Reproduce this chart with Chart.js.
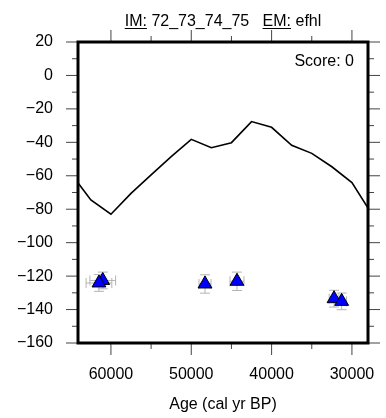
<!DOCTYPE html>
<html><head><meta charset="utf-8">
<script src="https://cdn.jsdelivr.net/npm/chart.js@4/dist/chart.umd.min.js"></script>
<style>html,body{margin:0;padding:0;background:#fff}#wrap{width:386px;height:418px}</style>
</head><body><div id="wrap"><canvas id="c" width="386" height="418"></canvas></div>
<script>
// ---- data ----
const lineAges = [65000, 62500, 60000, 57500, 55000, 52500, 50000, 47500, 45000, 42500, 40000, 37500, 35000, 32500, 30000, 27500];
const lineVals = [-58.5, -74.5, -83, -70.5, -59.5, -48.6, -38.2, -43.2, -40.2, -27.6, -31, -41.8, -46.6, -54.6, -64.1, -83];
const sampleAges = [61020, 61490, 48290, 44310, 32230, 31280];
const sampleVals = [-122.6, -124.1, -124.7, -123.1, -133.5, -135.1];
const sampleAgeErr = [1600, 1600, 750, 870, 600, 600];
const sampleValErr = [5, 5, 5.5, 5.5, 5, 5];
const xTicks = [60000, 50000, 40000, 30000];
const xMinorTicks = [55000, 45000, 35000];
const yTicks = [-160, -140, -120, -100, -80, -60, -40, -20, 0, 20];
const yMinorTicks = [-150, -130, -110, -90, -70, -50, -30, -10, 10];
const xRange = [28000, 64100];
const yRange = [-160, 20];
const titleIM = "72_73_74_75";
const titleEM = "efhl";
const scoreText = "Score: 0";
const xTitle = "Age (cal yr BP)";

const FONT = "'Liberation Sans', Arial, Helvetica, sans-serif";
Chart.defaults.font.family = FONT;
Chart.defaults.font.size = 16;
Chart.defaults.color = '#000';

const errorBars = {
  id: 'errorBars',
  beforeDatasetsDraw(chart) {
    const {ctx, scales: {x, y}} = chart;
    ctx.save();
    ctx.strokeStyle = '#b4b4b4';
    ctx.lineWidth = 1;
    sampleAges.forEach((a, i) => {
      const v = sampleVals[i];
      const px = x.getPixelForValue(a), py = y.getPixelForValue(v);
      const x1 = x.getPixelForValue(a - sampleAgeErr[i]), x2 = x.getPixelForValue(a + sampleAgeErr[i]);
      const y1 = y.getPixelForValue(v - sampleValErr[i]), y2 = y.getPixelForValue(v + sampleValErr[i]);
      const c = 5;
      ctx.beginPath();
      ctx.moveTo(x1, py); ctx.lineTo(x2, py);
      ctx.moveTo(x1, py - c); ctx.lineTo(x1, py + c);
      ctx.moveTo(x2, py - c); ctx.lineTo(x2, py + c);
      ctx.moveTo(px, y1); ctx.lineTo(px, y2);
      ctx.moveTo(px - c, y1); ctx.lineTo(px + c, y1);
      ctx.moveTo(px - c, y2); ctx.lineTo(px + c, y2);
      ctx.stroke();
    });
    ctx.restore();
  }
};

const frame = {
  id: 'frame',
  afterDraw(chart) {
    const {ctx, chartArea: a, scales: {x, y}} = chart;
    ctx.save();
    ctx.strokeStyle = '#444';
    ctx.lineWidth = 1;
    const M = 12, m = 6;
    ctx.beginPath();
    const xt = (vals, L) => vals.forEach(v => {
      const p = x.getPixelForValue(v);
      ctx.moveTo(p, a.top); ctx.lineTo(p, a.top - L);
      ctx.moveTo(p, a.bottom); ctx.lineTo(p, a.bottom + L);
    });
    const yt = (vals, L) => vals.forEach(v => {
      const p = y.getPixelForValue(v);
      ctx.moveTo(a.left, p); ctx.lineTo(a.left - L, p);
      ctx.moveTo(a.right, p); ctx.lineTo(a.right + L, p);
    });
    xt(xTicks, M); xt(xMinorTicks, m); yt(yTicks, M); yt(yMinorTicks, m);
    ctx.stroke();
    ctx.strokeStyle = '#000';
    ctx.lineWidth = 3;
    ctx.strokeRect(a.left, a.top, a.right - a.left, a.bottom - a.top);

    // title
    ctx.fillStyle = '#000';
    ctx.font = '16px ' + FONT;
    ctx.textBaseline = 'alphabetic';
    ctx.textAlign = 'left';
    const parts = [['IM:', true], [' ' + titleIM, false], ['   ', false], ['EM:', true], [' ' + titleEM, false]];
    const total = parts.reduce((s, p) => s + ctx.measureText(p[0]).width, 0);
    let cx = (a.left + a.right) / 2 - total / 2;
    const by = 26;
    ctx.lineWidth = 1;
    ctx.strokeStyle = '#000';
    parts.forEach(([t, u]) => {
      const w = ctx.measureText(t).width;
      ctx.fillText(t, cx, by);
      if (u) { ctx.beginPath(); ctx.moveTo(cx, by + 2.5); ctx.lineTo(cx + w, by + 2.5); ctx.stroke(); }
      cx += w;
    });
    // score
    ctx.textAlign = 'right';
    ctx.fillText(scoreText, a.right - 14, 66);
    ctx.restore();
  }
};

new Chart(document.getElementById('c'), {
  type: 'scatter',
  data: {
    datasets: [
      {
        type: 'line',
        data: lineAges.map((a, i) => ({x: a, y: lineVals[i]})),
        borderColor: '#000', borderWidth: 1.6, pointRadius: 0, fill: false, tension: 0, clip: 0, order: 2
      },
      {
        data: sampleAges.map((a, i) => ({x: a, y: sampleVals[i]})),
        pointStyle: 'triangle', pointRadius: 8, pointHoverRadius: 8,
        backgroundColor: '#0000ff', borderColor: '#000', borderWidth: 1, order: 1
      }
    ]
  },
  options: {
    responsive: false, animation: false, devicePixelRatio: 1,
    layout: {padding: {left: 0, right: 18, top: 42, bottom: 0}},
    plugins: {legend: {display: false}, tooltip: {enabled: false}},
    scales: {
      x: {
        type: 'linear', reverse: true, min: xRange[0], max: xRange[1],
        afterBuildTicks: s => { s.ticks = xTicks.map(v => ({value: v})); },
        afterFit: s => { s.height = 75; s.paddingLeft = 0; s.paddingRight = 0; },
        grid: {display: false, drawTicks: false}, border: {display: false},
        ticks: {padding: 22, callback: v => String(v), maxRotation: 0, autoSkip: false},
        title: {display: true, text: xTitle, padding: {bottom: 4, top: 0}}
      },
      y: {
        type: 'linear', min: yRange[0], max: yRange[1],
        afterBuildTicks: s => { s.ticks = yTicks.map(v => ({value: v})); },
        afterFit: s => { s.width = 78; s.paddingTop = 0; s.paddingBottom = 0; },
        grid: {display: false, drawTicks: false}, border: {display: false},
        ticks: {padding: 25, callback: v => String(v).replace('-', '\u2212'), autoSkip: false}
      }
    }
  },
  plugins: [errorBars, frame]
});
</script></body></html>
